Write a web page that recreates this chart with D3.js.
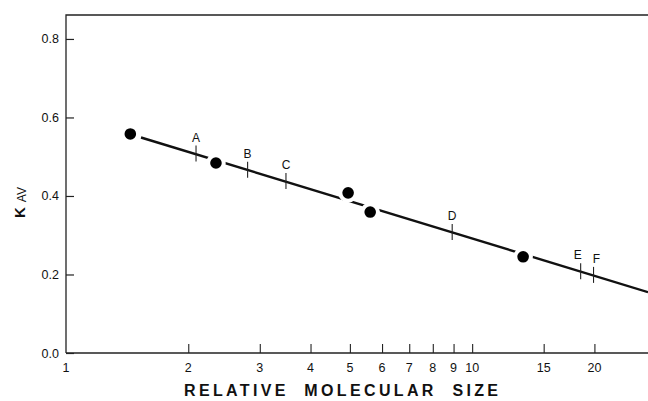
<html>
<head>
<script src="https://d3js.org/d3.v7.min.js"></script>
<style>
  body { margin: 0; background: #fff; }
  text { font-family: "Liberation Sans", Arial, sans-serif; fill: #111; }
</style>
</head>
<body>
<div id="chart"></div>
<script>
// data
const dotX = [1.44, 2.34, 4.95, 5.61, 13.35];
const dotY = [0.558, 0.484, 0.408, 0.359, 0.245];
const lineX = [1.53, 27.1];
const lineY = [0.549, 0.155];
const markLabels = ['A', 'B', 'C', 'D', 'E', 'F'];
const markX = [2.09, 2.8, 3.48, 8.93, 18.5, 19.9];
const markY = [0.508, 0.467, 0.438, 0.308, 0.208, 0.199];
const xTicks = [1, 2, 3, 4, 5, 6, 7, 8, 9, 10, 15, 20];
const yTicks = [0, 0.2, 0.4, 0.6, 0.8];

const width = 648, height = 401;
const margin = { top: 15, right: 0, bottom: 48, left: 66 };

const svg = d3.select('#chart').append('svg')
    .attr('width', width)
    .attr('height', height);

const x = d3.scaleLog().domain([1, 27.1]).range([margin.left, width - margin.right]);
const y = d3.scaleLinear().domain([0, 0.861]).range([height - margin.bottom, margin.top]);

// frame: left, top, bottom
const frame = svg.append('g').attr('stroke', '#222').attr('stroke-width', 1.3).attr('fill', 'none');
frame.append('path')
    .attr('d', `M${x(1)},${y(0)}V${y(0.861)}H${width}`);
frame.append('path')
    .attr('d', `M${x(1)},${y(0)}H${width}`);

// y axis (ticks pointing inward)
const yAxis = svg.append('g')
    .attr('transform', `translate(${margin.left},0)`)
    .call(d3.axisRight(y).tickValues(yTicks).tickSize(8).tickFormat(d3.format('.1f')));
yAxis.select('.domain').remove();
yAxis.selectAll('line').attr('stroke', '#222').attr('stroke-width', 1.2);
yAxis.selectAll('text')
    .attr('x', -7)
    .attr('text-anchor', 'end')
    .style('font-size', '12.5px');

// x axis (ticks pointing up inside, labels below)
const xAxis = svg.append('g')
    .attr('transform', `translate(0,${y(0)})`)
    .call(d3.axisTop(x).tickValues(xTicks.filter(d => d > 1)).tickSize(9).tickFormat(''));
xAxis.select('.domain').remove();
xAxis.selectAll('line').attr('stroke', '#222').attr('stroke-width', 1.1);

svg.append('g').selectAll('text')
    .data(xTicks)
    .join('text')
    .attr('x', d => x(d))
    .attr('y', y(0) + 19)
    .attr('text-anchor', 'middle')
    .style('font-size', '12.5px')
    .text(d => d);

// fitted line
svg.append('line')
    .attr('x1', x(lineX[0])).attr('y1', y(lineY[0]))
    .attr('x2', x(lineX[1])).attr('y2', y(lineY[1]))
    .attr('stroke', '#111')
    .attr('stroke-width', 2.4);

// marker ticks A-F
const marks = svg.append('g');
markLabels.forEach((lab, i) => {
    marks.append('line')
        .attr('x1', x(markX[i])).attr('x2', x(markX[i]))
        .attr('y1', y(markY[i]) - 8).attr('y2', y(markY[i]) + 8)
        .attr('stroke', '#222').attr('stroke-width', 1.1);
    marks.append('text')
        .attr('x', x(markX[i]) + (lab === 'E' ? -3 : lab === 'F' ? 3 : 0))
        .attr('y', y(markY[i]) - 12)
        .attr('text-anchor', 'middle')
        .style('font-size', '12px')
        .text(lab);
});

// data points with white halo to break the line
svg.append('g').selectAll('circle')
    .data(dotX)
    .join('circle')
    .attr('cx', d => x(d))
    .attr('cy', (d, i) => y(dotY[i]))
    .attr('r', 7.8)
    .attr('fill', '#000')
    .attr('stroke', '#fff')
    .attr('stroke-width', 4);

// y axis label K_AV
const yl = svg.append('text')
    .attr('transform', `translate(25,218) rotate(-90)`)
    .attr('text-anchor', 'start');
yl.append('tspan').style('font-size', '15px').style('font-weight', 'bold').text('K');
yl.append('tspan').attr('dx', 5).attr('dy', 1).style('font-size', '12px').text('AV');

// x axis label
svg.append('text')
    .attr('x', 184)
    .attr('y', 396)
    .attr('textLength', 314)
    .attr('lengthAdjust', 'spacing')
    .style('font-size', '16px')
    .style('font-weight', 'bold')
    .attr('xml:space', 'preserve')
    .text('RELATIVE  MOLECULAR  SIZE');
</script>
</body>
</html>
